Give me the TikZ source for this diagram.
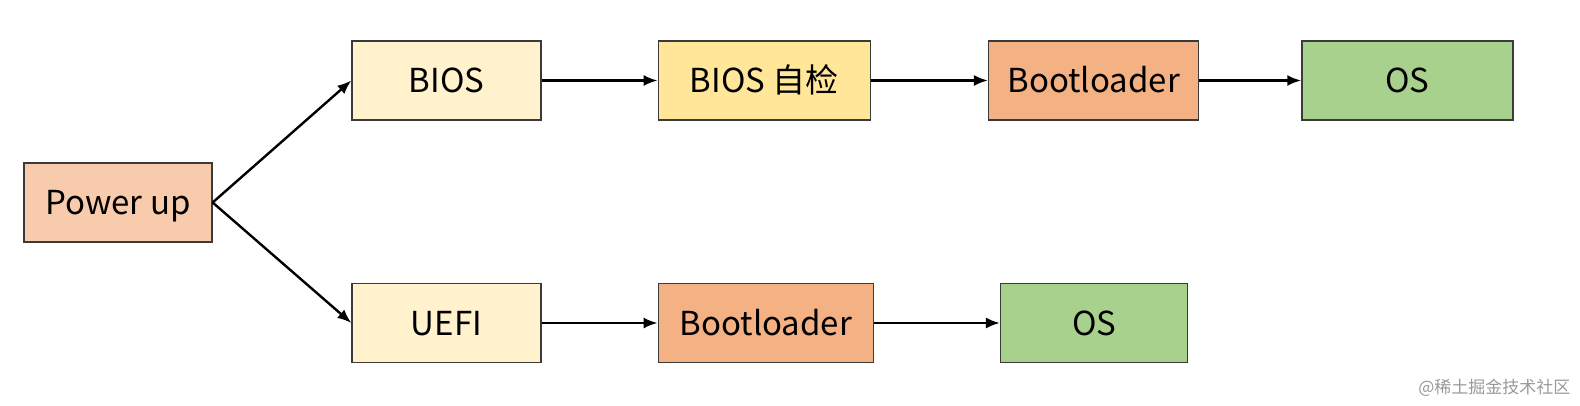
\documentclass[tikz,border=0pt]{standalone}
\usepackage{fontspec}
\setmainfont{Noto Sans CJK SC}
\usetikzlibrary{positioning,arrows.meta}
\definecolor{powerfill}{HTML}{F8CBAD}
\definecolor{biosfill}{HTML}{FFF2CC}
\definecolor{checkfill}{HTML}{FFE699}
\definecolor{bootfill}{HTML}{F4B183}
\definecolor{osfill}{HTML}{A9D18E}
\definecolor{boxline}{HTML}{3A3A3A}
\tikzset{
  >={Latex[length=14pt,width=11pt]},
  box/.style={draw=boxline, line width=1.3pt, minimum height=79pt, inner sep=0pt,
    text height=27pt, text depth=2pt, font=\fontsize{33}{38}\selectfont},
}

\begin{document}
\begin{tikzpicture}[x=1pt, y=-1pt, line width=2.4pt]
    \useasboundingbox (0,0) rectangle (1580,406);
    \node[box, fill=powerfill, minimum width=188pt] (power) at (118,202.5) {Power up};
    % upper path
    \node[box, fill=biosfill, minimum width=189pt]  (bios)  at (446.5,80.5) {BIOS};
    \node[box, fill=checkfill, minimum width=212pt] (check) [right=116pt of bios] {BIOS 自检};
    \node[box, fill=bootfill, minimum width=210pt]  (boot1) [right=117pt of check] {Bootloader};
    \node[box, fill=osfill, minimum width=211pt]    (os1)   [right=102pt of boot1] {OS};
    % lower path
    \node[box, fill=biosfill, minimum width=189pt]  (uefi)  at (446.5,323) {UEFI};
    \node[box, fill=bootfill, minimum width=215pt]  (boot2) [right=116pt of uefi] {Bootloader};
    \node[box, fill=osfill, minimum width=187pt]    (os2)   [right=126pt of boot2] {OS};
    \draw[->] (power.east) -- (bios.west);
    \draw[->] (power.east) -- (uefi.west);
    \draw[->] (bios) -- (check);
    \draw[->] (check) -- (boot1);
    \draw[->] (boot1) -- (os1);
    \draw[->] (uefi) -- (boot2);
    \draw[->] (boot2) -- (os2);
    \node[anchor=east, text=black!40, font=\fontsize{17}{20}\selectfont] (mark) at (1575,388) {@稀土掘金技术社区};
\end{tikzpicture}
\end{document}
